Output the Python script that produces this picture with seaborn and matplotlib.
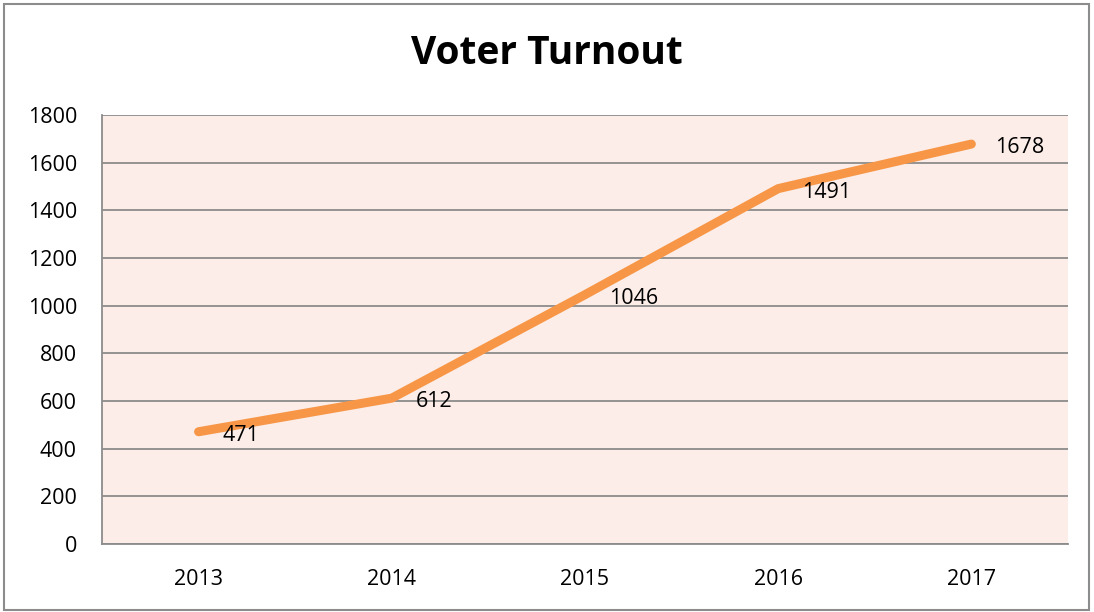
import matplotlib
matplotlib.use("Agg")
import matplotlib.pyplot as plt
import seaborn as sns
import pandas as pd

years = ["2013", "2014", "2015", "2016", "2017"]
turnout = [471, 612, 1046, 1491, 1678]
title = "Voter Turnout"

sns.set_theme(style="white")
plt.rcParams['font.family'] = ['Open Sans', 'DejaVu Sans']

df = pd.DataFrame({"year": years, "turnout": turnout})

fig = plt.figure(figsize=(10.94, 6.12), dpi=100)
ax = fig.add_axes([0.0932, 0.1111, 0.883, 0.701])
ax.set_facecolor("#FCEDE8")
sns.lineplot(data=df, x="year", y="turnout", ax=ax, color="#F79646",
             linewidth=6.5, solid_capstyle="round", sort=False)

for i, v in enumerate(turnout):
    ax.annotate(str(v), (i, v), xytext=(17, -2.5), textcoords="offset points",
                ha="left", va="center", fontsize=15.5, color="black")

ax.set_xlim(-0.5, 4.5)
ax.set_ylim(0, 1800)
ax.set_yticks(range(0, 1801, 200))
ax.yaxis.grid(True, color="#8C8C8C", linewidth=1.3)
ax.set_axisbelow(True)
for s in ["top", "right"]:
    ax.spines[s].set_visible(False)
ax.spines["left"].set_color("#8C8C8C")
ax.spines["bottom"].set_color("#8C8C8C")
ax.spines["left"].set_linewidth(1.3)
ax.spines["bottom"].set_linewidth(1.3)
ax.tick_params(axis="both", labelsize=15.5, length=0, labelcolor="black")
ax.tick_params(axis="y", pad=18)
ax.tick_params(axis="x", pad=18)
ax.set_xlabel("")
ax.set_ylabel("")

fig.text(0.5, 0.913, title, ha="center", va="center", fontsize=28,
         fontweight="bold", color="black")

border = plt.Rectangle((0.004, 0.004), 0.991, 0.99, transform=fig.transFigure,
                       fill=False, edgecolor="#8C8C8C", linewidth=1.5)
fig.patches.append(border)

fig.savefig("out.png", dpi=100)
